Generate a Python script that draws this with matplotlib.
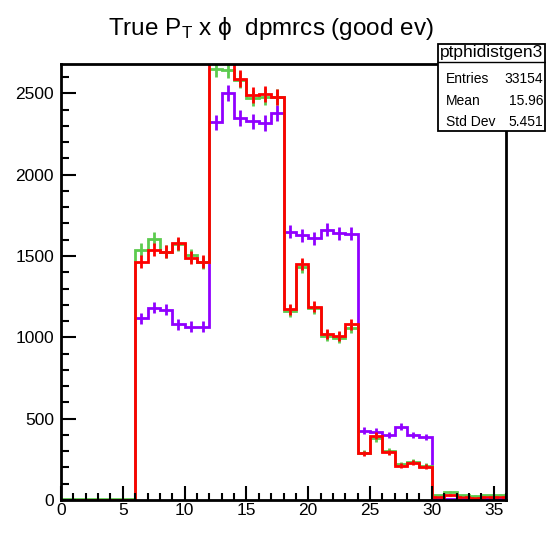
import numpy as np
import matplotlib
matplotlib.use("Agg")
import matplotlib.pyplot as plt
from matplotlib.patches import Rectangle
from matplotlib.lines import Line2D

plt.rcParams['font.family'] = ['Liberation Sans', 'DejaVu Sans']
plt.rcParams['mathtext.fontset'] = 'custom'
plt.rcParams['mathtext.rm'] = 'Liberation Sans'
plt.rcParams['mathtext.it'] = 'Liberation Sans:italic'

# ---- data ----
bin_edges = np.arange(0, 37, 1)
purple_counts = [2, 2, 2, 2, 2, 2,
                 1117, 1183, 1170, 1080, 1066, 1066,
                 2321, 2501, 2347, 2327, 2317, 2378,
                 1650, 1626, 1609, 1661, 1640, 1636,
                 426, 420, 400, 451, 400, 389,
                 8, 5, 7, 6, 10, 8]
green_counts = [6, 6, 6, 6, 6, 6,
                1538, 1605, 1527, 1572, 1503, 1460,
                2649, 2645, 2583, 2470, 2480, 2477,
                1162, 1435, 1179, 1011, 998, 1060,
                291, 379, 301, 219, 236, 211,
                28, 49, 28, 25, 28, 30]
red_counts = [0, 0, 0, 0, 0, 0,
              1466, 1538, 1527, 1579, 1490, 1466,
              2760, 2740, 2590, 2491, 2497, 2475,
              1173, 1449, 1189, 1019, 1010, 1080,
              287, 396, 293, 211, 230, 205,
              18, 33, 16, 15, 21, 20]
series = [("purple", purple_counts, "#9000FF"),
          ("green", green_counts, "#5CCB4E"),
          ("red", red_counts, "#FF0000")]
title = r"True P$_{\mathrm{T}}$ x ϕ  dpmrcs (good ev)"
stats_name = "ptphidistgen3"
stats_rows = [("Entries", "33154"), ("Mean", "15.96"), ("Std Dev", "5.451")]
x_max, y_max = 36, 2680

W, H = 546, 533
fig = plt.figure(figsize=(W / 100, H / 100), dpi=100)
L, R, T, B = 61, 506, 64, 500
ax = fig.add_axes([L / W, 1 - B / H, (R - L) / W, (B - T) / H])

centers = 0.5 * (bin_edges[:-1] + bin_edges[1:])
for name, vals, col in series:
    v = np.array(vals, dtype=float)
    ax.stairs(v, bin_edges, color=col, lw=2.0, baseline=None)
    m = v > 0
    ax.errorbar(centers[m], v[m], yerr=np.sqrt(v[m]), fmt='none',
                ecolor=col, elinewidth=2.0, capsize=0)

ax.set_xlim(0, x_max)
ax.set_ylim(0, y_max)
ax.set_xticks(np.arange(0, 36, 5))
ax.set_xticks(np.arange(0, 37, 1), minor=True)
ax.set_yticks(np.arange(0, 2700, 500))
ax.set_yticks(np.arange(0, 2700, 100), minor=True)
ax.tick_params(which='both', direction='in', top=False, right=False,
               width=1.5, labelsize=12.5)
ax.tick_params(axis='y', which='major', length=11, pad=5)
ax.tick_params(axis='y', which='minor', length=6)
ax.tick_params(axis='x', which='major', length=10, pad=2)
ax.tick_params(axis='x', which='minor', length=5)
for s in ax.spines.values():
    s.set_linewidth(2.0)

fig.text(271 / W, 1 - 28 / H, title, ha='center', va='center', fontsize=17.5)

# stats box
bx0, bx1, by0, by1, bysep = 438, 545, 44, 131, 62
fig.add_artist(Rectangle((bx0 / W, 1 - by1 / H), (bx1 - bx0) / W, (by1 - by0) / H,
                         transform=fig.transFigure, facecolor='white',
                         edgecolor='black', lw=1.3, zorder=10))
fig.add_artist(Line2D([bx0 / W, bx1 / W], [1 - bysep / H, 1 - bysep / H],
                      transform=fig.transFigure, color='black', lw=1.0, zorder=11))
fig.text(440 / W, 1 - 53 / H, stats_name, ha='left', va='center',
         fontsize=12.5, zorder=12)
row_y = [79, 101, 122]
for (k, v), yy in zip(stats_rows, row_y):
    fig.text(446 / W, 1 - yy / H, k, ha='left', va='center', fontsize=10, zorder=12)
    fig.text(543 / W, 1 - yy / H, v, ha='right', va='center', fontsize=10, zorder=12)

fig.savefig("out.png", dpi=100)
